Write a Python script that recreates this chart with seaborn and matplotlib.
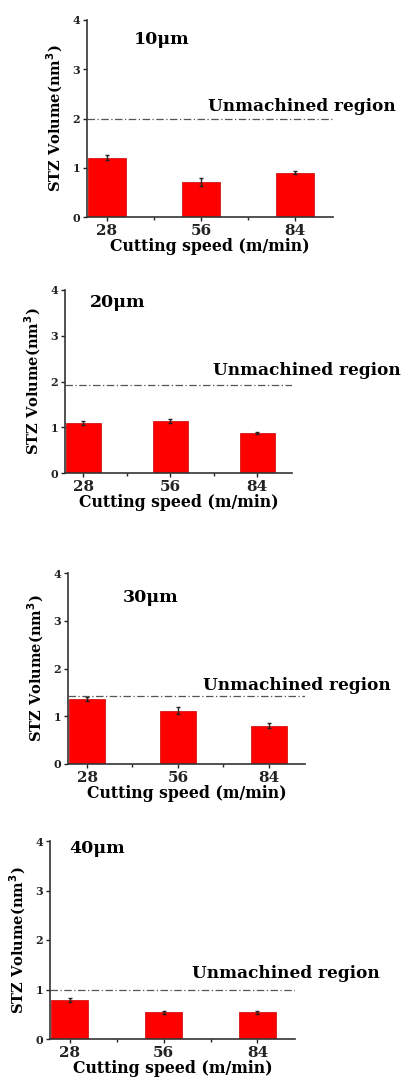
import numpy as np
import pandas as pd
import matplotlib
matplotlib.use("Agg")
import matplotlib.pyplot as plt
import seaborn as sns
from matplotlib.ticker import FixedLocator

sns.set_style("ticks")
plt.rcParams['font.family'] = ['DejaVu Serif']
plt.rcParams['font.weight'] = 'bold'
plt.rcParams['text.color'] = 'black'
plt.rcParams['axes.labelcolor'] = 'black'
plt.rcParams['xtick.color'] = '#222222'
plt.rcParams['ytick.color'] = '#222222'

speeds = ["28", "56", "84"]
depths = ["10μm", "20μm", "30μm", "40μm"]

stz_10 = [1.20, 0.71, 0.90]
stz_20 = [1.09, 1.13, 0.87]
stz_30 = [1.36, 1.12, 0.80]
stz_40 = [0.79, 0.54, 0.54]

err_10 = [0.05, 0.08, 0.03]
err_20 = [0.04, 0.04, 0.02]
err_30 = [0.04, 0.07, 0.05]
err_40 = [0.04, 0.03, 0.03]

unmachined = [2.0, 1.93, 1.42, 1.0]

# panel boxes in pixels: left, right, top, bottom
boxes = [(87, 333, 20, 217), (65, 292, 290, 473), (68, 305, 573, 764), (50, 295, 841, 1039)]
title_pos = [(0.19, 0.90), (0.11, 0.93), (0.23, 0.87), (0.08, 0.96)]
label_pos = [(0.49, 0.56), (0.65, 0.56), (0.57, 0.41), (0.58, 0.33)]

W, H = 410, 1079
fig = plt.figure(figsize=(W / 100, H / 100), dpi=100)

all_vals = [stz_10, stz_20, stz_30, stz_40]
all_errs = [err_10, err_20, err_30, err_40]

for i in range(4):
    l, r, t, b = boxes[i]
    ax = fig.add_axes([l / W, (H - b) / H, (r - l) / W, (b - t) / H])
    df = pd.DataFrame({"speed": speeds, "stz": all_vals[i]})
    sns.barplot(data=df, x="speed", y="stz", color="#ff0000", saturation=1,
                width=0.4, edgecolor="#cc0000", linewidth=0.5, ax=ax)
    xs = [p.get_x() + p.get_width() / 2 for p in ax.patches]
    ax.errorbar(xs, all_vals[i], yerr=all_errs[i], fmt="none", ecolor="#222222",
                elinewidth=1, capsize=1.5, capthick=1)
    ax.axhline(unmachined[i], color="#555555", linestyle="-.", linewidth=0.9, dashes=(6, 2, 1, 2))
    ax.set_xlim(-0.21, 2.4)
    ax.set_ylim(0, 4)
    ax.set_yticks([0, 1, 2, 3, 4])
    ax.xaxis.set_minor_locator(FixedLocator([0.5, 1.5]))
    ax.tick_params(axis="y", labelsize=8, length=3, width=1, pad=2)
    ax.tick_params(axis="x", which="major", labelsize=11, length=3, width=1, pad=2)
    ax.tick_params(axis="x", which="minor", length=2, width=1)
    for lab in ax.get_xticklabels() + ax.get_yticklabels():
        lab.set_fontweight("bold")
    ax.set_xlabel("Cutting speed (m/min)", fontsize=11.3, fontweight="bold", labelpad=0)
    ax.set_ylabel("STZ Volume(nm$^\\mathbf{3}$)", fontsize=10.5, fontweight="bold", labelpad=5)
    sns.despine(ax=ax)
    for s in ["left", "bottom"]:
        ax.spines[s].set_linewidth(1.2)
        ax.spines[s].set_color("#333333")
    ax.text(title_pos[i][0], title_pos[i][1], depths[i], transform=ax.transAxes,
            fontsize=12.5, fontweight="bold", va="center", ha="left")
    ax.text(label_pos[i][0], label_pos[i][1], "Unmachined region", transform=ax.transAxes,
            fontsize=12.2, fontweight="bold", va="center", ha="left", clip_on=False)

fig.savefig("out.png", dpi=100)
